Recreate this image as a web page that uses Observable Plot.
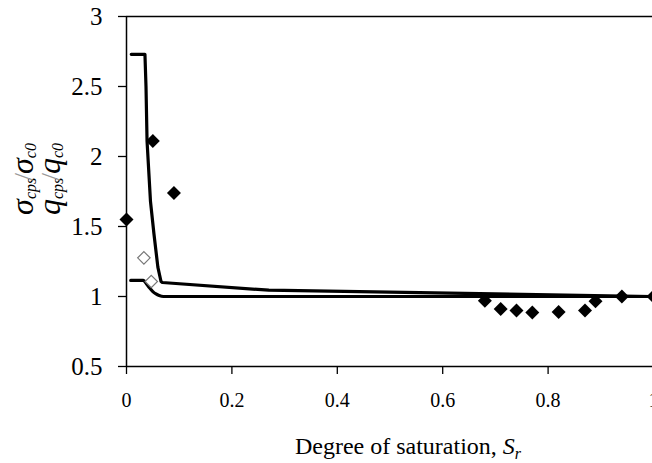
<!DOCTYPE html>
<html>
<head>
<meta charset="utf-8">
<script src="https://cdn.jsdelivr.net/npm/d3@7"></script>
<script src="https://cdn.jsdelivr.net/npm/@observablehq/plot@0.6"></script>
<style>
  html, body { margin: 0; padding: 0; background: #fff; }
</style>
</head>
<body>
<div id="chart"></div>
<script>
// Filled diamonds (measured)
const filledX = [0, 0.05, 0.09, 0.68, 0.71, 0.74, 0.77, 0.82, 0.87, 0.89, 0.94, 1.0];
const filledY = [1.55, 2.11, 1.74, 0.97, 0.91, 0.90, 0.886, 0.89, 0.90, 0.966, 1.0, 1.0];
// Open diamonds
const openX = [0.033, 0.047];
const openY = [1.276, 1.107];
// Upper model curve
const upperX = [0.009, 0.035, 0.037, 0.039, 0.0455, 0.052, 0.0595, 0.0655, 0.068, 0.27, 1.0];
const upperY = [2.73, 2.73, 2.5, 2.11, 1.68, 1.45, 1.21, 1.107, 1.10, 1.045, 1.0];
// Lower model curve
const lowerX = [0.008, 0.032, 0.038, 0.044, 0.05, 0.056, 0.062, 0.07, 1.0];
const lowerY = [1.115, 1.115, 1.09, 1.06, 1.035, 1.018, 1.007, 1.0, 1.0];

const xTicks = [0, 0.2, 0.4, 0.6, 0.8, 1];
const yTicks = [0.5, 1, 1.5, 2, 2.5, 3];

const zip = (xs, ys) => xs.map((x, i) => ({x, y: ys[i]}));
const filled = zip(filledX, filledY);
const open = zip(openX, openY);
const upper = zip(upperX, upperY);
const lower = zip(lowerX, lowerY);

const FONT = "Liberation Serif";

const chart = Plot.plot({
  width: 652,
  height: 463,
  marginLeft: 126,
  marginTop: 16,
  marginBottom: 97,
  marginRight: 0,
  style: {background: "#fff", color: "#000"},
  x: {domain: [0, 1], range: [126, 653]},
  y: {domain: [0.5, 3]},
  marks: [
    Plot.axisX({ticks: xTicks, tickFormat: d => String(d), tickSize: 8, tickPadding: 18, fontSize: 20, fontFamily: FONT, label: null, strokeWidth: 1.3}),
    Plot.axisY({ticks: yTicks, tickFormat: d => String(d), tickSize: 8, tickPadding: 16, fontSize: 25, fontFamily: FONT, label: null, strokeWidth: 1.3}),
    Plot.ruleY([3], {stroke: "#000", strokeWidth: 1.5}),
    Plot.ruleY([0.5], {stroke: "#000", strokeWidth: 1.5}),
    Plot.ruleX([0], {stroke: "#000", strokeWidth: 1.5}),
    Plot.line(upper, {x: "x", y: "y", stroke: "#000", strokeWidth: 3.2}),
    Plot.line(lower, {x: "x", y: "y", stroke: "#000", strokeWidth: 3.2, curve: "monotone-x"}),
    Plot.dot(open, {x: "x", y: "y", symbol: "diamond2", r: 5.6, stroke: "#777", strokeWidth: 1.2, fill: "#fff"}),
    Plot.dot(filled, {x: "x", y: "y", symbol: "diamond2", r: 6.3, fill: "#000", stroke: "none"})
  ]
});
document.getElementById("chart").appendChild(chart);

const svg = d3.select(chart);
// X label
const xl = svg.append("text")
  .attr("x", 408).attr("y", 454)
  .attr("text-anchor", "middle")
  .attr("font-family", FONT)
  .attr("font-size", 24)
  .attr("fill", "#000");
xl.append("tspan").text("Degree of saturation, ");
xl.append("tspan").attr("font-style", "italic").text("S");
xl.append("tspan").attr("font-style", "italic").attr("font-size", 16).attr("dy", 5).text("r");

// Y label (two lines, rotated)
const yl = svg.append("g").attr("transform", "translate(0,179) rotate(-90)")
  .attr("font-family", FONT).attr("fill", "#000").attr("font-style", "italic");
function subLabel(g, y, main, sub1, sub2) {
  const t = g.append("text").attr("x", 0).attr("y", y).attr("text-anchor", "middle").attr("font-size", 32);
  t.append("tspan").text(main);
  t.append("tspan").attr("font-size", 16).attr("dy", 3).text(sub1);
  t.append("tspan").attr("dy", -3).attr("dx", -3).attr("font-size", 28).attr("font-style", "normal").attr("fill", "#999").text("/");
  t.append("tspan").attr("dx", -1).text(main);
  t.append("tspan").attr("font-size", 16).attr("dy", 3).text(sub2);
}
subLabel(yl, 33, "σ", "cps", "c0");
subLabel(yl, 60, "q", "cps", "c0");
</script>
</body>
</html>
